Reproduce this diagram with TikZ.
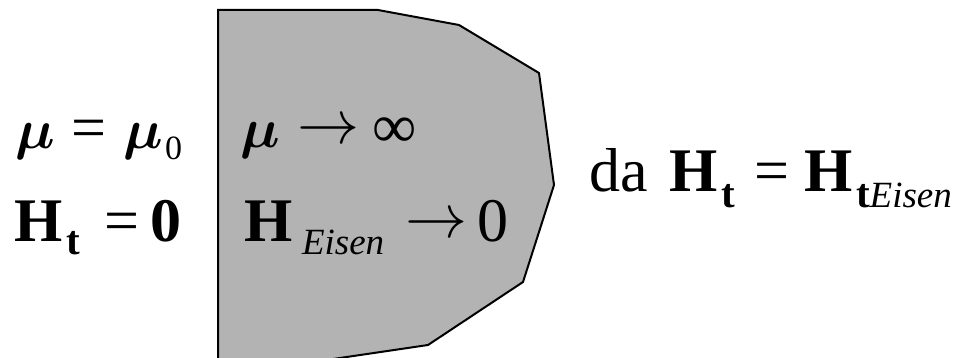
\RequirePackage{fix-cm}
\documentclass[tikz,border=0pt]{standalone}
\usepackage{bm}
\usepackage{fontspec}
\setmainfont{Liberation Serif}
\definecolor{iron}{RGB}{179,179,179}
\newcommand{\bigsz}{\fontsize{62}{62}\selectfont}
\newcommand{\musz}{\fontsize{56}{56}\selectfont}
\newcommand{\subsz}{\fontsize{41}{41}\selectfont}
\newcommand{\eisz}{\fontsize{37}{37}\selectfont}
\newcommand{\mymu}{$\bm{\mu}$}
\tikzset{txt/.style={inner sep=0pt,outer sep=0pt,anchor=base west}}
\begin{document}
\begin{tikzpicture}[x=1pt,y=1pt]
\useasboundingbox (0,0) rectangle (957,358);
\begin{scope}
\clip (0,0) rectangle (957,358);
\draw[line width=2pt,fill=iron] (218,348) -- (378,348) -- (459,333) -- (539,285) -- (554,173) -- (523,76) -- (428,13) -- (218,-18) -- cycle;
\end{scope}
% left
\node[txt] (m1) at (15,209) {\musz\mymu};
\node[txt] (e1) at (71,209) {\bigsz =};
\node[txt] (m2) at (123,209) {\musz\mymu};
\node[txt] (z1) at (165,198) {\fontsize{34}{34}\selectfont 0};
\node[txt] (h1) at (14,116) {\bigsz\bfseries H};
\node[txt] (t1) at (66,103) {\subsz\bfseries t};
\node[txt] (e2) at (104,116) {\bigsz =};
\node[txt] (z2) at (150,116) {\bigsz\bfseries 0};
% inside
\node[txt] (m3) at (240,210) {\musz\mymu};
\node[txt] (a1) at (297,214) {\bigsz$\rightarrow$};
\node[txt] (i1) at (372,210) {\bigsz ∞};
\node[txt] (h2) at (244,116) {\bigsz\bfseries H};
\node[txt] (s2) at (302,103) {\eisz\itshape Eisen};
\node[txt] (a2) at (405,120) {\bigsz$\rightarrow$};
\node[txt] (z3) at (477,116) {\bigsz 0};
% right
\node[txt] (da) at (589,166) {\bigsz da};
\node[txt] (h3) at (669,166) {\bigsz\bfseries H};
\node[txt] (t3) at (721,150) {\subsz\bfseries t};
\node[txt] (e3) at (754,166) {\bigsz =};
\node[txt] (h4) at (804,166) {\bigsz\bfseries H};
\node[txt] (t4) at (856,150) {\subsz\bfseries t\eisz\itshape\mdseries Eisen};
\end{tikzpicture}
\end{document}
